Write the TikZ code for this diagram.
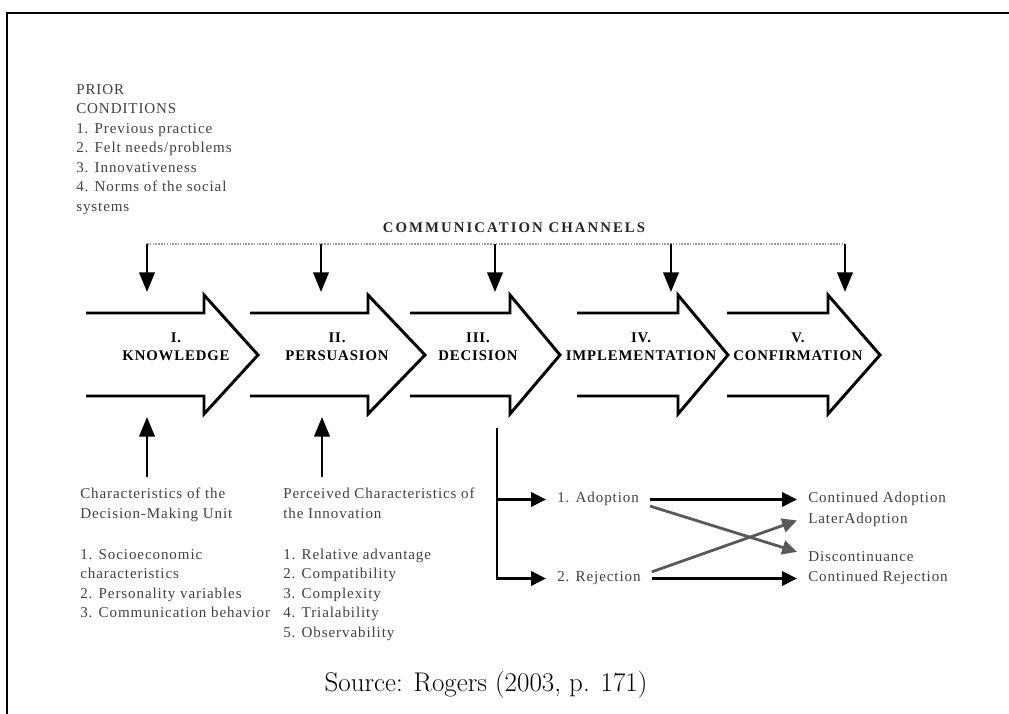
\documentclass[tikz,border=0pt]{standalone}
\usepackage{fontspec}
\usetikzlibrary{arrows.meta,positioning}
\newfontfamily\figserif[LetterSpace=6]{Liberation Serif}
\newfontfamily\figwide[LetterSpace=14]{Liberation Serif}
\newcommand\figbody{\figserif\fontsize{10.7}{13.9}\selectfont}
\newcommand\figstage{\figserif\bfseries\fontsize{10.5}{12.8}\selectfont}
\newcommand\figchan{\figwide\bfseries\fontsize{10.5}{12.8}\selectfont}

\begin{document}
\begin{tikzpicture}[x=0.025cm,y=-0.025cm,
    body/.style={font=\figbody,text=black!75,align=left,inner sep=0pt,anchor=north west},
    stagelab/.style={font=\figstage,align=center,inner sep=0pt},
    stagearrow/.style={line width=2.1pt,line join=miter},
    feed/.style={line width=2pt,-{Triangle[length=14pt,width=11pt]}},
    outcome/.style={line width=2pt,-{Triangle[length=10.5pt,width=10pt]}},
    result/.style={font=\figbody,text=black!75,inner xsep=7.8pt,inner ysep=0pt,text height=7pt,text depth=2pt,anchor=base west},
    channel/.style={line width=1.3pt,draw=black!40,dash pattern=on 1.1pt off 0.9pt}]
      \useasboundingbox (0,0) rectangle (1009,714);
      \draw[line width=1.4pt] (7,714) -- (7,13) -- (1009,13);

      \node[body] (prior) at (76,84) {PRIOR\\CONDITIONS\\1. Previous practice\\2. Felt needs/problems\\3. Innovativeness\\4. Norms of the social\\systems};

      \node[font=\figchan,text=black!85,inner sep=0pt] (chan) at (514,228) {COMMUNICATION CHANNELS};

      % the five stages
      \foreach \s/\b/\t in {86/204/258,250/368/425,410/510/560,577/678/728,727/828/880}
      \draw[stagearrow] (\s,313) -- (\b,313) -- (\b,295) -- (\t,355) -- (\b,414) -- (\b,396) -- (\s,396);

      \node[stagelab] (knowl) at (176,347) {I.\\KNOWLEDGE};
      \node[stagelab] (pers) at (337,347) {II.\\PERSUASION};
      \node[stagelab] (decis) at (478,347) {III.\\DECISION};
      \node[stagelab] (impl) at (641,347) {IV.\\IMPLEMENTATION};
      \node[stagelab] (confirm) at (798,347) {V.\\CONFIRMATION};

      \foreach \x/\n in {147/1,321/2,495/3,671/4,845/5}{
        \coordinate (ch\n) at (\x,244);
        \coordinate (st\n) at (\x,292);
      }
      \draw[channel] (ch1) -- (ch5);
      \foreach \n in {1,...,5}
      \draw[feed] (ch\n) -- (st\n);

      \node[body,inner ysep=7.8pt] (unit) at (80,477) {Characteristics of the\\Decision-Making Unit\\[15pt]1. Socioeconomic\\characteristics\\2. Personality variables\\3. Communication behavior};
      \node[body,inner ysep=7.8pt] (innov) at (283,477) {Perceived Characteristics of\\the Innovation\\[15pt]1. Relative advantage\\2. Compatibility\\3. Complexity\\4. Trialability\\5. Observability};
      \coordinate (upK) at (147,417);
      \coordinate (upP) at (322,417);
      \draw[feed] (unit.north -| upK) -- (upK);
      \draw[feed] (innov.north -| upP) -- (upP);

      \node[result] (adopt) at (546,503) {1. Adoption};
      \node[result] (reject) at (546,582) {2. Rejection};
      \node[result] (contA) at (797,503) {Continued Adoption};
      \node[result] (later) at (797,524) {LaterAdoption};
      \node[result] (discont) at (797,562) {Discontinuance};
      \node[result] (contR) at (797,582) {Continued Rejection};

      \coordinate (decfoot) at (497,428);
      \draw[outcome] (decfoot) |- (adopt.west);
      \draw[outcome] (decfoot) |- (reject.west);
      \draw[outcome] (adopt) -- (contA);
      \draw[outcome] (reject) -- (contR);
      \draw[outcome,color=black!65] (adopt.south east) -- (discont.north west);
      \draw[outcome,color=black!65] (reject.north east) -- (later.west);

      \node[font=\fontsize{19.2}{23}\selectfont,inner sep=0pt] (source) at (486,685) {Source: Rogers (2003, p. 171)};
\end{tikzpicture}
\end{document}
